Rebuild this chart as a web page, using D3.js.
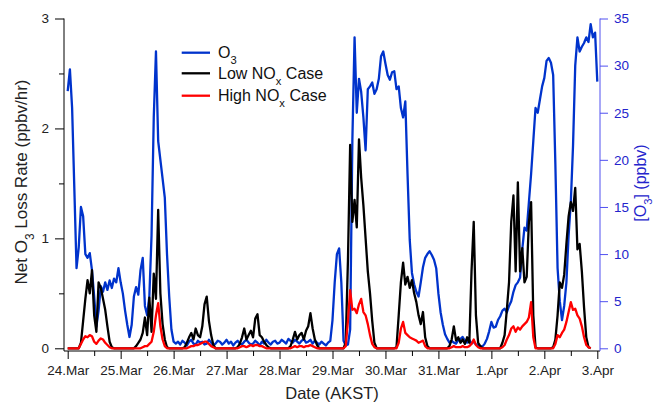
<!DOCTYPE html>
<html>
<head>
<meta charset="utf-8">
<script src="https://cdn.jsdelivr.net/npm/d3@7"></script>
<style>
  body { margin: 0; background: #fff; }
  svg { display: block; font-family: 'Liberation Sans', Arial, sans-serif; }
</style>
</head>
<body>
<script>
// hourly samples starting 24.Mar 00:00 AKST
const START = Date.UTC(2012, 2, 24);
const END = Date.UTC(2012, 3, 3);
const STEP_HOURS = 1;

// [O3] in ppbv (right axis)
const o3Ppbv = [
  27.3, 29.6, 25.5, 17.0, 8.5, 10.7, 15.0, 14.0, 10.0, 9.6,
  10.1, 8.3, 5.5, 2.3, 4.0, 6.6, 6.0, 7.0, 6.2, 7.2,
  6.4, 7.4, 7.0, 8.5, 7.0, 5.8, 4.0, 2.5, 1.2, 2.5,
  5.5, 6.5, 5.7, 8.3, 9.6, 4.5, 3.5, 5.5, 12.0, 24.5,
  31.5, 22.0, 20.0, 18.0, 16.0, 10.0, 5.5, 2.0, 0.7,
  0.5, 0.7, 0.4, 0.8, 0.6, 0.3, 0.7, 0.9, 0.5, 0.4, 0.8, 0.6,
  0.7, 0.4, 0.5, 0.9, 0.6, 0.3, 0.5, 0.8, 0.7, 0.4, 0.6, 0.9,
  0.5, 0.7, 0.3, 0.6, 0.8, 0.5, 0.4, 0.7, 0.9, 0.6, 0.4, 0.5,
  0.8, 0.6, 0.3, 0.7, 0.5, 0.9, 0.6, 0.4, 0.7, 0.8, 0.5, 0.6,
  0.9, 0.7, 0.5, 1.0, 0.8, 0.6, 0.9, 0.7, 0.5, 0.8, 1.0, 0.6,
  0.7, 0.9, 0.5, 0.8, 0.6, 0.4, 0.7, 0.5, 0.3, 0.6, 0.8,
  3.0, 7.0, 10.0, 10.6, 7.0, 0.8, 0.3, 0.4, 2.0, 22.0,
  33.0, 25.0, 28.6, 27.2, 24.5, 21.0, 27.5, 27.8, 28.2, 27.0,
  27.5, 28.6, 31.0, 31.5, 30.2, 29.0, 28.5, 29.3, 29.4, 27.5,
  27.8, 25.5, 24.5, 26.2, 18.5, 11.5, 8.0, 6.8, 6.0, 5.5,
  7.0, 8.6, 9.6, 10.0, 10.3, 9.9, 9.4, 8.5, 5.8, 3.8,
  2.5, 1.5, 1.0, 0.6, 0.8, 0.6, 0.5, 0.9, 1.0, 1.2,
  0.8, 0.6, 0.9, 0.5, 0.7, 0.4, 0.3, 0.2, 0.2, 0.5,
  1.0, 1.8, 2.8, 2.2, 2.3, 3.0, 3.4, 4.0, 4.2, 3.8,
  4.5, 5.0, 6.0, 6.7, 7.0, 7.5, 10.5, 12.8, 12.5, 15.5,
  18.5, 22.0, 25.5, 25.0, 26.4, 27.8, 28.7, 30.5, 30.8, 30.3,
  29.0, 19.5, 8.5, 5.0, 3.0, 4.5, 7.0, 12.0, 15.5, 21.5,
  30.0, 33.0, 31.5, 32.0, 32.4, 33.0, 32.5, 34.4, 33.0, 33.5, 28.3
];

// net O3 loss rate, ppbv/hr (left axis)
const lowNoxRate = [
  0, 0, 0, 0, 0, 0, 0.05, 0.25, 0.45, 0.62,
  0.5, 0.71, 0.3, 0.15, 0.6, 0.55, 0.45, 0.35, 0.2, 0.06,
  0.01, 0, 0, 0, 0, 0, 0, 0, 0, 0,
  0, 0.02, 0.05, 0.08, 0.14, 0.28, 0.12, 0.46, 0.15, 0.68,
  0.45, 1.26, 0.5, 0.22, 0.08, 0.01, 0, 0, 0, 0,
  0, 0, 0, 0.01, 0.05, 0.1, 0.14, 0.08, 0.18, 0.12,
  0.1, 0.2, 0.4, 0.47, 0.25, 0.12, 0.03, 0, 0, 0,
  0, 0, 0, 0, 0, 0, 0, 0.01, 0.04, 0.1,
  0.18, 0.08, 0.12, 0.16, 0.1, 0.27, 0.31, 0.12, 0.1, 0.06,
  0.03, 0.01, 0, 0, 0, 0, 0, 0, 0, 0,
  0, 0.02, 0.08, 0.15, 0.08, 0.12, 0.14, 0.08, 0.16, 0.2,
  0.32, 0.18, 0.08, 0.03, 0, 0, 0, 0, 0, 0,
  0, 0, 0, 0, 0, 0, 0.05, 0.8, 1.85, 1.15,
  1.35, 1.1, 1.9, 1.55, 1.3, 1.0, 0.7, 0.5, 0.25, 0.05,
  0, 0, 0, 0, 0, 0, 0, 0, 0, 0.01,
  0.3, 0.6, 0.78, 0.58, 0.65, 0.55, 0.62, 0.5, 0.42, 0.3,
  0.22, 0.33, 0.1, 0.02, 0, 0, 0, 0, 0, 0,
  0, 0, 0, 0.02, 0.08, 0.2, 0.07, 0.1, 0.05, 0.08,
  0.04, 0.1, 0.05, 0.7, 1.15, 0.3, 0.05, 0.02, 0, 0,
  0, 0, 0, 0, 0, 0, 0, 0.05, 0.12, 0.35,
  0.6, 1.15, 1.39, 0.7, 1.51, 0.7, 0.91, 0.6, 0.65, 1.15,
  1.33, 0.3, 0.01, 0, 0, 0, 0, 0, 0, 0,
  0.01, 0.08, 0.3, 0.6, 0.55, 0.67, 0.95, 1.2, 1.33, 1.25,
  1.46, 0.9, 0.95, 0.7, 0.37, 0.1, 0.01, 0
];

const highNoxRate = [
  0, 0, 0, 0, 0, 0, 0.04, 0.08, 0.11, 0.1,
  0.12, 0.11, 0.06, 0.04, 0.07, 0.09, 0.08, 0.05, 0.03, 0.01,
  0, 0, 0, 0, 0, 0, 0, 0, 0, 0,
  0, 0, 0, 0, 0.01, 0.02, 0.02, 0.04, 0.06, 0.15,
  0.3, 0.41, 0.2, 0.08, 0.02, 0, 0, 0, 0, 0,
  0, 0, 0, 0, 0, 0.01, 0.02, 0.02, 0.03, 0.03,
  0.04, 0.05, 0.06, 0.06, 0.04, 0.02, 0.01, 0, 0, 0,
  0, 0, 0, 0, 0, 0, 0, 0, 0.01, 0.02,
  0.02, 0.01, 0.02, 0.03, 0.02, 0.03, 0.03, 0.02, 0.02, 0.01,
  0, 0, 0, 0, 0, 0, 0, 0, 0, 0,
  0, 0, 0.01, 0.02, 0.01, 0.02, 0.02, 0.01, 0.02, 0.02,
  0.03, 0.02, 0.01, 0, 0, 0, 0, 0, 0, 0,
  0, 0, 0, 0, 0, 0, 0.02, 0.25, 0.53, 0.35,
  0.36, 0.32, 0.4, 0.45, 0.33, 0.3, 0.22, 0.12, 0.04, 0.01,
  0, 0, 0, 0, 0, 0, 0, 0, 0, 0,
  0.05, 0.18, 0.24, 0.14, 0.12, 0.1, 0.09, 0.08, 0.07, 0.05,
  0.06, 0.07, 0.02, 0, 0, 0, 0, 0, 0, 0,
  0, 0, 0, 0, 0.01, 0.02, 0.01, 0.01, 0.01, 0.02,
  0.01, 0.01, 0.02, 0.04, 0.08, 0.03, 0.01, 0, 0, 0,
  0, 0, 0, 0, 0, 0, 0, 0.01, 0.03, 0.08,
  0.12, 0.18, 0.2, 0.15, 0.19, 0.17, 0.2, 0.22, 0.24, 0.28,
  0.42, 0.1, 0, 0, 0, 0, 0, 0, 0, 0,
  0, 0.04, 0.12, 0.1, 0.14, 0.17, 0.24, 0.33, 0.42, 0.35,
  0.36, 0.3, 0.27, 0.2, 0.1, 0.03, 0.01, 0
];

const leftTicks = [0, 1, 2, 3];
const leftMinorTicks = [0.5, 1.5, 2.5];
const rightTicks = [0, 5, 10, 15, 20, 25, 30, 35];

// legend text split as [before, subscript, after]
const legendLabels = [['O', '3', ''], ['Low NO', 'x', ' Case'], ['High NO', 'x', ' Case']];

const BLUE = '#0033cc';
const colors = [BLUE, '#000000', '#ff0000'];

const svg = d3.select('body').append('svg').attr('width', 653).attr('height', 406);

const x = d3.scaleUtc().domain([new Date(START), new Date(END)]).range([67.7, 597.3]);
const yLeft = d3.scaleLinear().domain([0, 3]).range([348.3, 18.5]);
const yRight = d3.scaleLinear().domain([0, 35]).range([348.3, 18.5]);
const timeAt = i => new Date(START + i * STEP_HOURS * 3600e3);

const axisFont = g => g.selectAll('text').style('font-size', '13.5px');

// x axis
const xAxisY = 351;
const days = d3.utcDay.range(new Date(START), new Date(END + 1));
const halfDays = d3.utcHour.range(new Date(START), new Date(END)).filter(d => d.getUTCHours() === 12);
svg.append('g')
  .attr('transform', `translate(0,${xAxisY})`)
  .call(d3.axisBottom(x).tickValues(halfDays).tickSize(5).tickFormat(''))
  .call(g => g.select('.domain').remove());
svg.append('g')
  .attr('transform', `translate(0,${xAxisY})`)
  .call(d3.axisBottom(x).tickValues(days).tickSize(8).tickPadding(6).tickFormat(d3.utcFormat('%-d.%b')))
  .call(g => g.select('.domain').remove())
  .call(axisFont)
  .call(g => g.selectAll('text').attr('fill', '#222'));
svg.append('line').attr('x1', 64).attr('x2', 600).attr('y1', xAxisY).attr('y2', xAxisY).attr('stroke', '#000');

// left axis
svg.append('g')
  .attr('transform', 'translate(64,0)')
  .call(d3.axisLeft(yLeft).tickValues(leftMinorTicks).tickSize(5).tickFormat(''))
  .call(g => g.select('.domain').remove());
svg.append('g')
  .attr('transform', 'translate(64,0)')
  .call(d3.axisLeft(yLeft).tickValues(leftTicks).tickSize(9).tickPadding(6).tickFormat(d3.format('d')))
  .call(g => g.select('.domain').remove())
  .call(axisFont)
  .call(g => g.selectAll('text').attr('fill', '#222'));
svg.append('line').attr('x1', 64).attr('x2', 64).attr('y1', 18.5).attr('y2', xAxisY).attr('stroke', '#000');

// right axis
const RIGHT_AXIS = '#5050f0';
svg.append('g')
  .attr('transform', 'translate(600,0)')
  .call(d3.axisRight(yRight).tickValues(rightTicks).tickSize(8).tickPadding(6))
  .call(g => g.select('.domain').remove())
  .call(axisFont)
  .call(g => g.selectAll('line').attr('stroke', RIGHT_AXIS))
  .call(g => g.selectAll('text').attr('fill', '#2424cc'));
svg.append('line').attr('x1', 600).attr('x2', 600).attr('y1', 18.5).attr('y2', xAxisY).attr('stroke', RIGHT_AXIS);

// series
const lineLeft = d3.line().x((d, i) => x(timeAt(i))).y(d => yLeft(d));
const lineRight = d3.line().x((d, i) => x(timeAt(i))).y(d => yRight(d));

svg.append('path').datum(o3Ppbv).attr('d', lineRight)
  .attr('fill', 'none').attr('stroke', colors[0]).attr('stroke-width', 2.3).attr('stroke-linejoin', 'round');
svg.append('path').datum(lowNoxRate).attr('d', lineLeft)
  .attr('fill', 'none').attr('stroke', colors[1]).attr('stroke-width', 2.3).attr('stroke-linejoin', 'round');
svg.append('path').datum(highNoxRate).attr('d', lineLeft)
  .attr('fill', 'none').attr('stroke', colors[2]).attr('stroke-width', 2.3).attr('stroke-linejoin', 'round');

// axis titles
function subText(sel, parts) {
  sel.append('tspan').text(parts[0]);
  sel.append('tspan').attr('baseline-shift', 'sub').style('font-size', '70%').text(parts[1]);
  sel.append('tspan').text(parts[2]);
}

svg.append('text')
  .attr('transform', 'translate(27,182) rotate(-90)')
  .attr('text-anchor', 'middle')
  .style('font-size', '17px').attr('fill', '#222')
  .call(subText, ['Net O', '3', ' Loss Rate (ppbv/hr)']);

svg.append('text')
  .attr('transform', 'translate(646,183) rotate(-90)')
  .attr('text-anchor', 'middle')
  .style('font-size', '16px').attr('fill', '#2424cc')
  .call(subText, ['[O', '3', '] (ppbv)']);

svg.append('text')
  .attr('x', 332).attr('y', 399)
  .attr('text-anchor', 'middle')
  .style('font-size', '16.5px').attr('fill', '#222')
  .text('Date (AKST)');

// legend
const legendY = [52.7, 73.3, 95.7];
const legend = svg.append('g');
legendLabels.forEach((parts, i) => {
  legend.append('line')
    .attr('x1', 181.7).attr('x2', 210).attr('y1', legendY[i]).attr('y2', legendY[i])
    .attr('stroke', colors[i]).attr('stroke-width', 2.3);
  legend.append('text')
    .attr('x', 218).attr('y', legendY[i] + 5.5)
    .style('font-size', '16px').attr('fill', '#111')
    .call(subText, parts);
});
</script>
</body>
</html>
